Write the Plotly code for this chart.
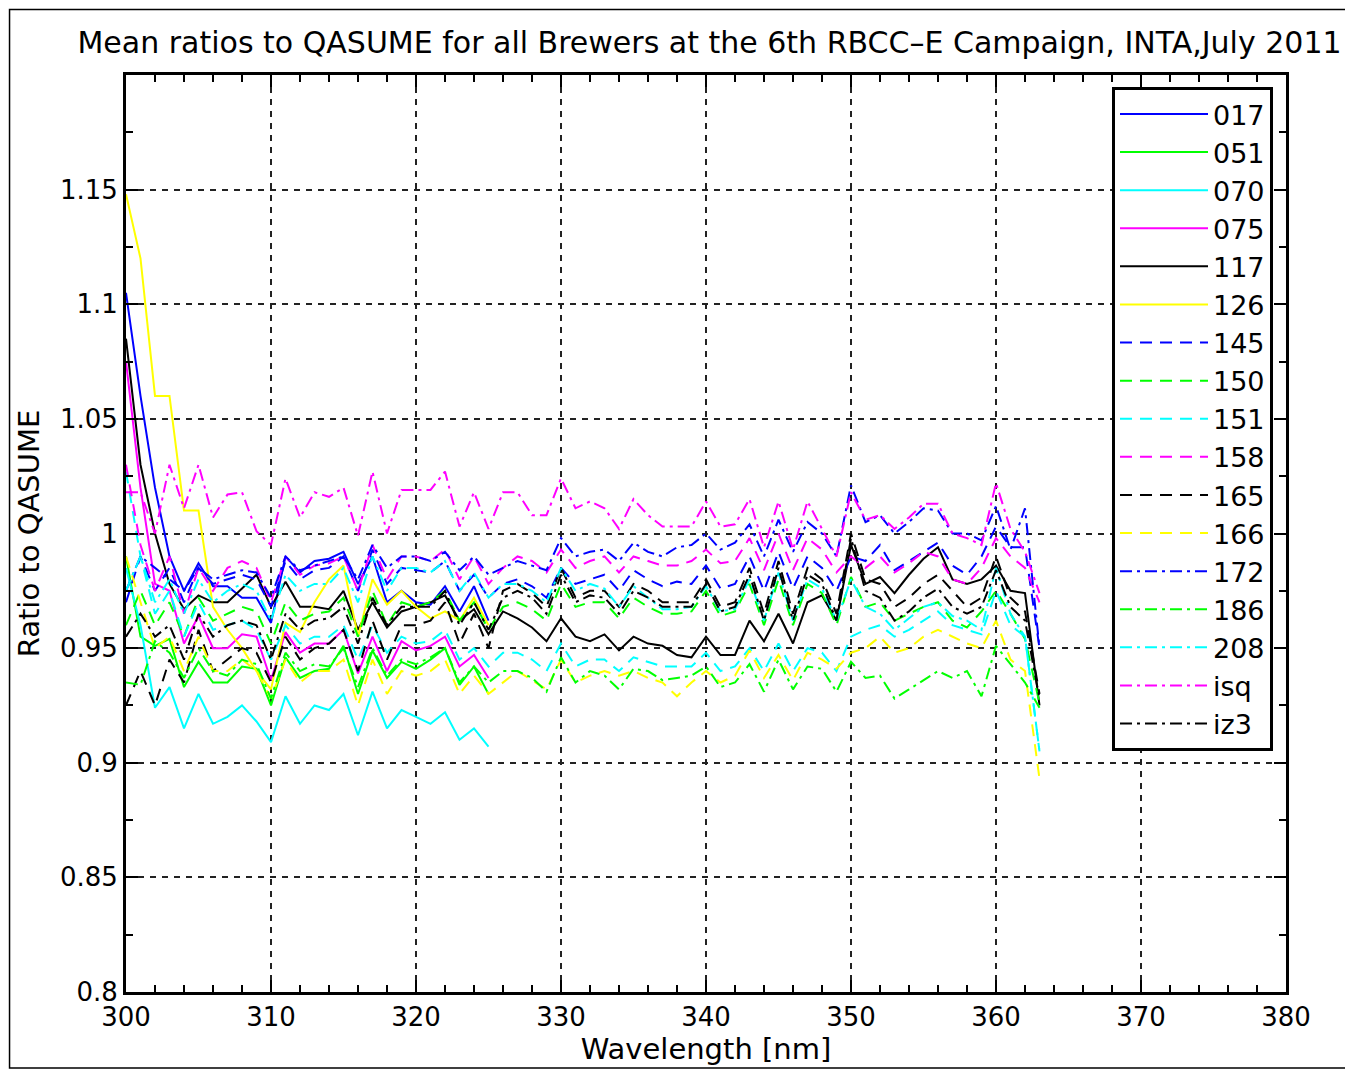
import plotly.graph_objects as go

# wavelengths [nm]
wl_all = list(range(300, 364))
wl_short = list(range(300, 326))

# single-monochromator brewers (300-325 nm)
b017 = [1.105, 1.06, 1.02, 0.99, 0.975, 0.987, 0.977, 0.977, 0.972, 0.972, 0.961, 0.99, 0.983,
        0.988, 0.989, 0.992, 0.978, 0.99, 0.97, 0.975, 0.97, 0.969, 0.977, 0.966, 0.977, 0.962]
b051 = [0.99, 0.955, 0.951, 0.954, 0.933, 0.944, 0.935, 0.935, 0.942, 0.941, 0.925, 0.946, 0.937,
        0.94, 0.941, 0.951, 0.93, 0.949, 0.937, 0.944, 0.941, 0.945, 0.95, 0.934, 0.942, 0.93]
b070 = [0.985, 0.96, 0.924, 0.933, 0.915, 0.93, 0.917, 0.92, 0.925, 0.918, 0.909, 0.929, 0.917,
        0.925, 0.923, 0.93, 0.912, 0.931, 0.915, 0.923, 0.92, 0.917, 0.922, 0.91, 0.915, 0.907]
b075 = [1.075, 1.02, 0.978, 0.975, 0.952, 0.964, 0.95, 0.95, 0.956, 0.955, 0.936, 0.957, 0.948,
        0.952, 0.952, 0.958, 0.939, 0.955, 0.94, 0.953, 0.949, 0.951, 0.955, 0.942, 0.947, 0.937]
b126 = [1.148, 1.12, 1.06, 1.06, 1.01, 1.01, 0.968, 0.958, 0.95, 0.94, 0.932, 0.961, 0.957,
        0.97, 0.98, 0.986, 0.955, 0.98, 0.969, 0.975, 0.968, 0.963, 0.966, 0.962, 0.972, 0.96]

# double brewers and others (300-363 nm)
b117 = [1.085, 1.03, 1.0, 0.978, 0.967, 0.973, 0.97, 0.97, 0.976, 0.982, 0.968, 0.979, 0.968,
        0.968, 0.967, 0.975, 0.958, 0.97, 0.959, 0.966, 0.968, 0.97, 0.973, 0.962, 0.967, 0.956,
        0.966, 0.963, 0.959, 0.953, 0.963, 0.955, 0.953, 0.956, 0.949, 0.955, 0.952, 0.951, 0.947,
        0.946, 0.955, 0.947, 0.947, 0.962, 0.953, 0.965, 0.952, 0.97, 0.973, 0.962, 0.995, 0.978,
        0.981, 0.974, 0.982, 0.989, 0.994, 0.98, 0.978, 0.98, 0.986, 0.975, 0.974, 0.925]
b145 = [0.97, 0.99, 0.975, 0.985, 0.97, 0.985, 0.978, 0.98, 0.982, 0.98, 0.968, 0.988, 0.98,
        0.984, 0.985, 0.99, 0.975, 0.993, 0.978, 0.985, 0.984, 0.983, 0.988, 0.975, 0.982, 0.972,
        0.978, 0.98, 0.977, 0.972, 0.985, 0.978, 0.98, 0.982, 0.975, 0.984, 0.98, 0.977, 0.979,
        0.978, 0.986, 0.976, 0.978, 0.99, 0.975, 0.992, 0.976, 0.99, 0.985, 0.975, 0.99, 0.988,
        0.995, 0.984, 0.988, 0.992, 0.996, 0.986, 0.982, 0.99, 1.003, 0.994, 0.994, 0.95]
b150 = [0.96, 0.975, 0.96, 0.97, 0.955, 0.972, 0.962, 0.965, 0.968, 0.966, 0.952, 0.97, 0.962,
        0.965, 0.966, 0.972, 0.955, 0.975, 0.96, 0.97, 0.968, 0.97, 0.975, 0.962, 0.97, 0.958,
        0.968, 0.97, 0.967, 0.962, 0.978, 0.968, 0.97, 0.97, 0.963, 0.972, 0.968, 0.965, 0.965,
        0.966, 0.975, 0.964, 0.966, 0.978, 0.96, 0.98, 0.96, 0.978, 0.974, 0.96, 0.981, 0.968,
        0.97, 0.962, 0.965, 0.968, 0.97, 0.962, 0.959, 0.966, 0.975, 0.965, 0.954, 0.926]
b151 = [1.027, 0.99, 0.965, 0.975, 0.955, 0.97, 0.958, 0.96, 0.962, 0.958, 0.945, 0.96, 0.952,
        0.955, 0.955, 0.96, 0.945, 0.96, 0.948, 0.955, 0.952, 0.953, 0.958, 0.945, 0.95, 0.942,
        0.948, 0.948, 0.945, 0.94, 0.952, 0.942, 0.945, 0.945, 0.94, 0.946, 0.944, 0.942, 0.942,
        0.942, 0.948, 0.94, 0.942, 0.95, 0.94, 0.952, 0.94, 0.95, 0.948, 0.94, 0.955, 0.958,
        0.96, 0.955, 0.958, 0.962, 0.966, 0.96, 0.958, 0.956, 0.975, 0.96, 0.955, 0.905]
b158 = [1.03, 0.995, 0.975, 0.99, 0.965, 0.985, 0.975, 0.985, 0.988, 0.985, 0.97, 0.99, 0.982,
        0.986, 0.987, 0.99, 0.975, 0.995, 0.98, 0.99, 0.99, 0.988, 0.993, 0.98, 0.99, 0.978,
        0.985, 0.99, 0.988, 0.983, 0.993, 0.985, 0.988, 0.99, 0.983, 0.99, 0.988, 0.986, 0.986,
        0.988, 0.993, 0.987, 0.988, 0.998, 0.984, 1.0, 0.984, 0.998, 0.993, 0.983, 0.99, 0.985,
        0.99, 0.983, 0.987, 0.992, 0.99, 0.98, 0.978, 0.985, 0.998, 0.99, 0.985, 0.97]
b165 = [0.925, 0.94, 0.925, 0.945, 0.935, 0.958, 0.94, 0.945, 0.95, 0.948, 0.935, 0.955, 0.945,
        0.95, 0.952, 0.958, 0.94, 0.962, 0.945, 0.96, 0.96, 0.962, 0.97, 0.952, 0.965, 0.95,
        0.975, 0.978, 0.974, 0.968, 0.985, 0.972, 0.975, 0.975, 0.968, 0.978, 0.975, 0.97, 0.97,
        0.97, 0.98, 0.968, 0.97, 0.985, 0.965, 0.988, 0.965, 0.985, 0.98, 0.965, 1.0, 0.98,
        0.978, 0.968, 0.972, 0.978, 0.982, 0.975, 0.968, 0.972, 0.99, 0.972, 0.966, 0.93]
b166 = [0.99, 0.97, 0.95, 0.955, 0.94, 0.955, 0.94, 0.94, 0.945, 0.94, 0.928, 0.945, 0.935,
        0.94, 0.94, 0.945, 0.925, 0.945, 0.93, 0.94, 0.938, 0.94, 0.945, 0.93, 0.938, 0.93,
        0.935, 0.94, 0.936, 0.932, 0.945, 0.935, 0.938, 0.94, 0.938, 0.94, 0.937, 0.935, 0.929,
        0.935, 0.94, 0.935, 0.938, 0.949, 0.937, 0.947, 0.936, 0.948, 0.945, 0.941, 0.948, 0.95,
        0.955, 0.948, 0.95, 0.955, 0.958, 0.955, 0.952, 0.95, 0.962, 0.945, 0.94, 0.893]
b172 = [0.975, 0.99, 0.985, 0.98, 0.975, 0.985, 0.98, 0.982, 0.984, 0.983, 0.972, 0.99, 0.984,
        0.986, 0.988, 0.99, 0.98, 0.995, 0.985, 0.99, 0.99, 0.988, 0.992, 0.984, 0.99, 0.982,
        0.985, 0.988, 0.986, 0.984, 0.998, 0.99, 0.992, 0.993, 0.988, 0.996, 0.992, 0.99, 0.994,
        0.995, 1.0, 0.993, 0.996, 1.004, 0.99, 1.006, 0.992, 1.005, 1.0, 0.99, 1.021, 1.005,
        1.008, 1.0, 1.005, 1.011, 1.01, 1.0, 1.0, 0.997, 1.012, 0.993, 1.011, 0.95]
b186 = [0.935, 0.934, 0.953, 0.948, 0.937, 0.95, 0.94, 0.938, 0.945, 0.943, 0.928, 0.948, 0.94,
        0.943, 0.942, 0.95, 0.933, 0.95, 0.938, 0.945, 0.943, 0.946, 0.95, 0.935, 0.942, 0.935,
        0.94, 0.94, 0.937, 0.931, 0.946, 0.935, 0.94, 0.938, 0.932, 0.941, 0.94, 0.936, 0.937,
        0.938, 0.942, 0.933, 0.935, 0.943, 0.931, 0.945, 0.932, 0.942, 0.941, 0.931, 0.944, 0.937,
        0.938, 0.928, 0.932, 0.936, 0.94, 0.937, 0.94, 0.929, 0.951, 0.943, 0.935, 0.924]
b208 = [0.975, 0.99, 0.97, 0.98, 0.965, 0.98, 0.97, 0.975, 0.978, 0.975, 0.962, 0.982, 0.975,
        0.978, 0.978, 0.985, 0.97, 0.99, 0.975, 0.985, 0.985, 0.983, 0.988, 0.975, 0.983, 0.972,
        0.978, 0.978, 0.975, 0.97, 0.985, 0.975, 0.978, 0.976, 0.968, 0.977, 0.972, 0.967, 0.967,
        0.968, 0.977, 0.966, 0.967, 0.98, 0.962, 0.983, 0.962, 0.98, 0.976, 0.962, 0.98, 0.968,
        0.965, 0.958, 0.963, 0.968, 0.97, 0.964, 0.962, 0.958, 0.985, 0.965, 0.955, 0.905]
bisq = [1.018, 1.018, 1.0, 1.03, 1.011, 1.03, 1.007, 1.017, 1.018, 1.001, 0.995, 1.024, 1.007,
        1.018, 1.016, 1.02, 0.999, 1.027, 1.0, 1.019, 1.019, 1.019, 1.027, 1.003, 1.018, 1.002,
        1.018, 1.018, 1.008, 1.008, 1.024, 1.011, 1.014, 1.011, 1.002, 1.015, 1.008, 1.003, 1.003,
        1.003, 1.014, 1.003, 1.004, 1.015, 0.994, 1.014, 0.993, 1.014, 1.002, 0.99, 1.018, 1.006,
        1.008, 1.002, 1.007, 1.013, 1.013, 1.0, 0.998, 0.995, 1.022, 1.002, 0.992, 0.974]
biz3 = [0.955, 0.965, 0.955, 0.96, 0.945, 0.965, 0.955, 0.96, 0.962, 0.96, 0.945, 0.965, 0.958,
        0.962, 0.963, 0.968, 0.952, 0.972, 0.96, 0.968, 0.968, 0.968, 0.975, 0.96, 0.97, 0.958,
        0.972, 0.975, 0.972, 0.965, 0.982, 0.97, 0.973, 0.972, 0.965, 0.975, 0.972, 0.968, 0.968,
        0.968, 0.978, 0.966, 0.968, 0.982, 0.962, 0.985, 0.962, 0.982, 0.978, 0.962, 0.998, 0.975,
        0.972, 0.962, 0.966, 0.972, 0.976, 0.968, 0.965, 0.968, 0.984, 0.968, 0.962, 0.928]

series = [
    ("017", wl_short, b017, "#0000ff", "solid"),
    ("051", wl_short, b051, "#00ff00", "solid"),
    ("070", wl_short, b070, "#00ffff", "solid"),
    ("075", wl_short, b075, "#ff00ff", "solid"),
    ("117", wl_all, b117, "#000000", "solid"),
    ("126", wl_short, b126, "#ffff00", "solid"),
    ("145", wl_all, b145, "#0000ff", "dash"),
    ("150", wl_all, b150, "#00ff00", "dash"),
    ("151", wl_all, b151, "#00ffff", "dash"),
    ("158", wl_all, b158, "#ff00ff", "dash"),
    ("165", wl_all, b165, "#000000", "dash"),
    ("166", wl_all, b166, "#ffff00", "dash"),
    ("172", wl_all, b172, "#0000ff", "dashdot"),
    ("186", wl_all, b186, "#00ff00", "dashdot"),
    ("208", wl_all, b208, "#00ffff", "dashdot"),
    ("isq", wl_all, bisq, "#ff00ff", "dashdot"),
    ("iz3", wl_all, biz3, "#000000", "dashdot"),
]
dashes = {"solid": "solid", "dash": "12px,8px", "dashdot": "12px,5px,3px,5px"}

FONT = "DejaVu Sans"

fig = go.Figure()
for name, x, y, col, ls in series:
    fig.add_trace(go.Scatter(x=x, y=y, name=name, mode="lines",
                             line=dict(color=col, width=2, dash=dashes[ls])))

axis_common = dict(showline=True, linecolor="black", linewidth=3, mirror="ticks",
                   ticks="inside", ticklen=12, tickwidth=2, tickcolor="black",
                   showgrid=True, gridcolor="#222222", gridwidth=1.5, griddash="6px,6px",
                   zeroline=False, tickfont=dict(family=FONT, size=26, color="black"))

fig.update_xaxes(range=[300, 380], tickvals=list(range(300, 381, 10)),
                 minor=dict(ticks="inside", ticklen=7, tickwidth=2, dtick=2, tickcolor="black"),
                 title=dict(text="Wavelength [nm]", font=dict(family=FONT, size=29, color="black"),
                            standoff=0),
                 **axis_common)
fig.update_yaxes(range=[0.8, 1.2], tickvals=[0.8, 0.85, 0.9, 0.95, 1.0, 1.05, 1.1, 1.15],
                 ticktext=["0.8", "0.85", "0.9", "0.95", "1", "1.05", "1.1", "1.15"],
                 minor=dict(ticks="inside", ticklen=7, tickwidth=2, dtick=0.025, tickcolor="black"),
                 title=dict(text="Ratio to QASUME", font=dict(family=FONT, size=29, color="black"),
                            standoff=12),
                 **axis_common)

fig.update_layout(
    width=1353, height=1070,
    margin=dict(l=118, r=75, t=67, b=86),
    paper_bgcolor="white", plot_bgcolor="white",
    font=dict(family=FONT, size=26, color="black"),
    title=dict(text="Mean ratios to QASUME for all Brewers at the 6th RBCC\u2013E Campaign, INTA,July 2011",
               xref="container", yref="container", x=0.5185, y=0.968,
               xanchor="center", yanchor="middle",
               font=dict(family=FONT, size=30, color="black")),
    legend=dict(x=0.85, y=0.987, xanchor="left", yanchor="top",
                bgcolor="white", bordercolor="black", borderwidth=3,
                font=dict(family=FONT, size=27), itemwidth=88, tracegroupgap=0),
    shapes=[dict(type="rect", xref="paper", yref="paper", x0=-0.1004, x1=1.055,
                 y0=-0.083, y1=1.0714, line=dict(color="black", width=1.5))],
)

fig.write_html("out.html")
